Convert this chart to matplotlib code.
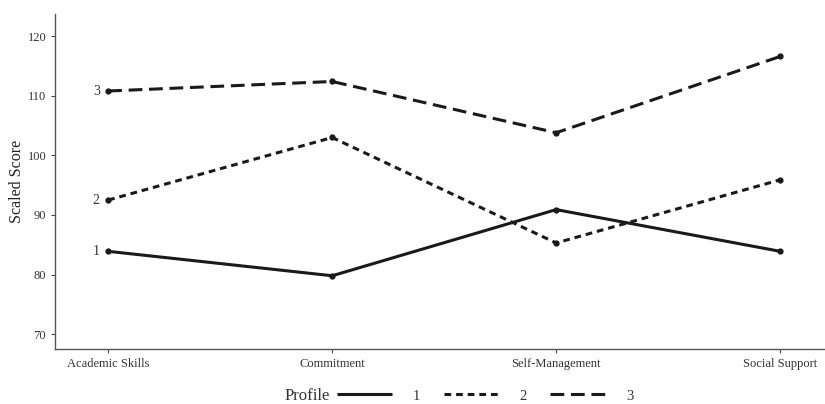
import matplotlib.pyplot as plt

plt.rcParams["font.family"] = ["Liberation Serif", "DejaVu Serif"]

skills = ["Academic Skills", "Commitment", "Self-Management", "Social Support"]
profile_1 = [83.9, 79.8, 90.9, 83.9]
profile_2 = [92.5, 103.0, 85.3, 95.9]
profile_3 = [110.8, 112.4, 103.8, 116.6]
profile_names = ["1", "2", "3"]

styles = [
    (0, ()),
    (0, (2.2, 1.6)),
    (0, (4.5, 2.2)),
]

fig = plt.figure(figsize=(8.25, 4.04), dpi=100)
ax = fig.add_axes([0.067, 0.136, 0.933, 0.829])

xs = list(range(1, len(skills) + 1))
for vals, name, ls in zip([profile_1, profile_2, profile_3], profile_names, styles):
    ax.plot(xs, vals, color="#1a1a1a", lw=2.2, linestyle=ls,
            marker="o", markersize=3.5, solid_capstyle="butt",
            dash_capstyle="butt")
    ax.annotate(name, (xs[0], vals[0]), xytext=(-6, 0), textcoords="offset points",
                ha="right", va="center", fontsize=10, color="#333333")

ax.set_xlim(1 - 0.236, 4 + 0.2)
ax.set_ylim(67.5, 123.7)
ax.set_xticks(xs)
ax.set_xticklabels(skills)
ax.set_yticks([70, 80, 90, 100, 110, 120])
ax.tick_params(axis="both", labelsize=9, colors="#444444", length=3, width=0.8,
               labelcolor="#333333")
ax.set_ylabel("Scaled Score", fontsize=11.5, color="#222222", labelpad=2)

for side in ["top", "right"]:
    ax.spines[side].set_visible(False)
for side in ["left", "bottom"]:
    ax.spines[side].set_color("#555555")
    ax.spines[side].set_linewidth(1.0)

# legend keys reuse the same dash patterns as the lines
leg_handles = [plt.Line2D([], [], color="#1a1a1a", lw=2.2, linestyle=ls,
                          dash_capstyle="butt") for ls in styles]
fig.legend(leg_handles, profile_names, loc="center", bbox_to_anchor=(0.588, 0.02),
           ncol=3, frameon=False, handlelength=3.8, columnspacing=1.6,
           handletextpad=1.4, fontsize=10.5, labelcolor="#333333")
fig.text(0.372, 0.02, "Profile", ha="center", va="center", fontsize=12, color="#333333")

fig.savefig("out.png", dpi=100)
